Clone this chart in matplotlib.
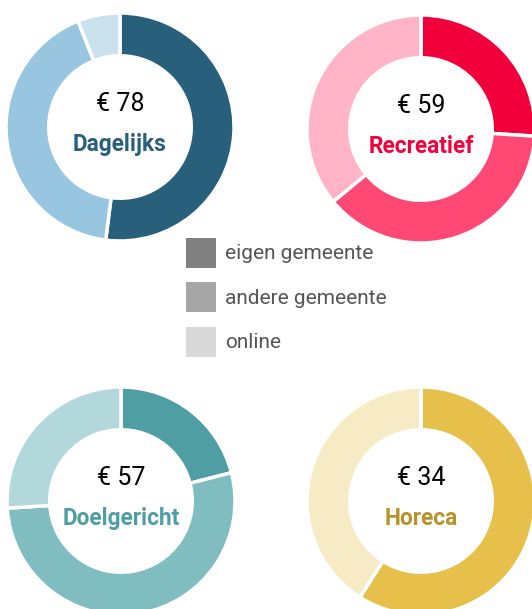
import matplotlib.pyplot as plt
from matplotlib.patches import Rectangle

# shares (%) per category: eigen gemeente, andere gemeente, online
categories = ['Dagelijks', 'Recreatief', 'Doelgericht', 'Horeca']
amounts = [78, 59, 57, 34]
eigen = [52, 26, 21, 59]
andere = [42, 38, 53, 41]
online = [6, 36, 26, 0]
legend_labels = ['eigen gemeente', 'andere gemeente', 'online']

colors = [
	['#28607c', '#98c5df', '#cae1ee'],
	['#f2003c', '#ff4874', '#ffb4c7'],
	['#4f9ea3', '#80bdc1', '#b2d8db'],
	['#e6c04a', '#f7ebc6', '#fbf5e2'],
]
title_colors = ['#28607c', '#f2003c', '#4f9ea3', '#b8922a']
legend_colors = ['#808080', '#a6a6a6', '#d9d9d9']

W, H = 532, 609
centers = [(120, 127), (421, 129), (121, 501), (421, 501)]
R = 114

plt.rcParams['font.family'] = ['Roboto', 'DejaVu Sans']
fig = plt.figure(figsize=(W/100, H/100), dpi=100)

for i, cat in enumerate(categories):
	cx, cy = centers[i]
	ax = fig.add_axes([(cx-R)/W, 1-(cy+R)/H, 2*R/W, 2*R/H])
	vals = [eigen[i], andere[i], online[i]]
	ax.pie(vals, colors=colors[i], startangle=90, counterclock=False, radius=1,
		wedgeprops=dict(width=0.375, edgecolor='white', linewidth=2.5))
	ax.set_xlim(-1, 1)
	ax.set_ylim(-1, 1)
	ax.set_aspect('equal')
	ax.axis('off')
	ax.text(0, 0.2, '€ %d' % amounts[i], ha='center', va='center', fontsize=18, color='black')
	ax.text(0, -0.15, cat, ha='center', va='center', fontsize=16.3, fontweight='bold', color=title_colors[i])

# legend
for k, lab in enumerate(legend_labels):
	y = [253, 297, 342][k]
	fig.add_artist(Rectangle((186/W, 1-(y+15)/H), 30/W, 30/H, transform=fig.transFigure,
		facecolor=legend_colors[k], edgecolor='none'))
	fig.text(225/W, 1-(y+1)/H, lab, ha='left', va='center', fontsize=15, color='#555555')

fig.savefig('out.png', dpi=100)
